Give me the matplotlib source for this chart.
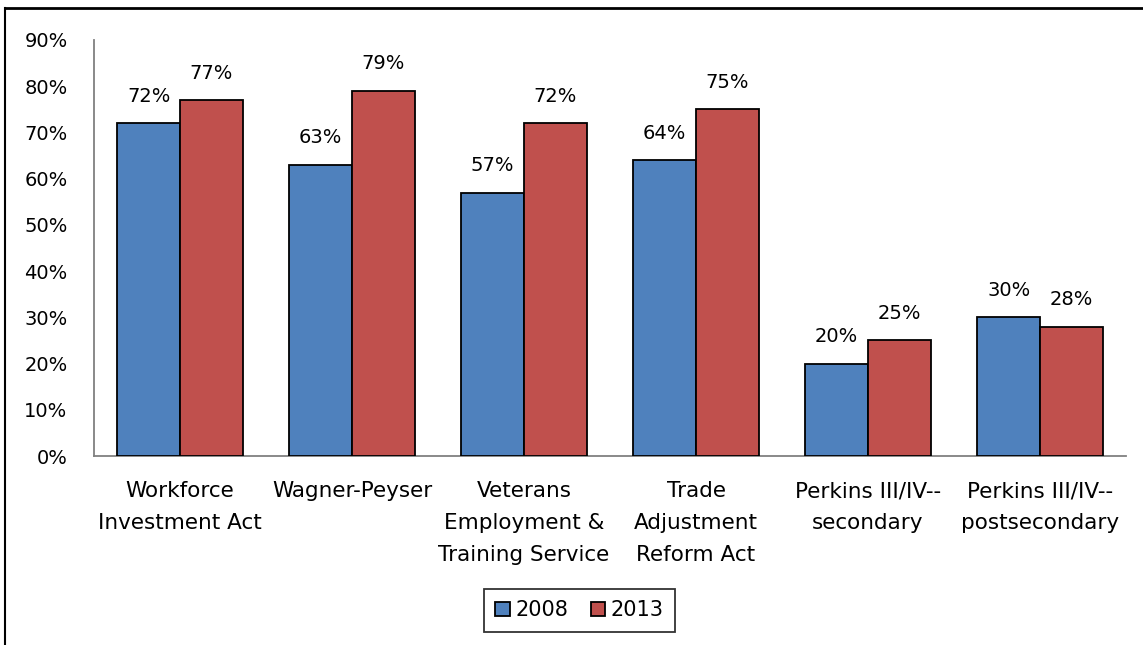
import numpy as np
import matplotlib.pyplot as plt
from matplotlib.lines import Line2D

categories = ['Workforce\nInvestment Act', 'Wagner-Peyser', 'Veterans\nEmployment &\nTraining Service',
              'Trade\nAdjustment\nReform Act', 'Perkins III/IV--\nsecondary', 'Perkins III/IV--\npostsecondary']
years = ['2008', '2013']
vals_2008 = [72, 63, 57, 64, 20, 30]
vals_2013 = [77, 79, 72, 75, 25, 28]
colors = ['#4F81BD', '#C0504D']

plt.rcParams['font.family'] = ['DejaVu Sans']

fig = plt.figure(figsize=(11.43, 6.45), dpi=100)
ax = fig.add_axes([0.0822, 0.293, 0.903, 0.645])

x = np.arange(len(categories))
w = 0.365
for i, (vals, c, lab) in enumerate(zip([vals_2008, vals_2013], colors, years)):
    pos = x + (i - 0.5) * w
    ax.bar(pos, vals, width=w, color=c, edgecolor='black', linewidth=1.3, label=lab, zorder=3)
    for p, v in zip(pos, vals):
        ax.annotate(f'{v}%', (p, v), xytext=(0, 12.5), textcoords='offset points',
                    ha='center', va='bottom', fontsize=14)

ax.set_xlim(-0.5, len(categories) - 0.5)
ax.set_ylim(0, 90)
ax.set_yticks(range(0, 91, 10))
ax.set_yticklabels([f'{t}%' for t in range(0, 91, 10)], fontsize=14)
ax.set_xticks(x)
ax.set_xticklabels(categories, fontsize=15.5, linespacing=1.75)
ax.tick_params(axis='y', length=0, pad=19)
ax.tick_params(axis='x', length=0, pad=18)
for s in ['top', 'right']:
    ax.spines[s].set_visible(False)
for s in ['left', 'bottom']:
    ax.spines[s].set_color('#808080')
    ax.spines[s].set_linewidth(1.3)

leg = fig.legend(loc='center', bbox_to_anchor=(0.507, 0.054), ncol=2, fontsize=15,
                 frameon=True, fancybox=False, edgecolor='black', handlelength=0.7,
                 handleheight=0.7, handletextpad=0.25, columnspacing=1.1, borderpad=0.55)
leg.get_frame().set_linewidth(1.3)

# outer frame (top and left edges only)
fig.add_artist(Line2D([0.0045, 1.0], [0.987, 0.987], color='black', lw=2, transform=fig.transFigure))
fig.add_artist(Line2D([0.0045, 0.0045], [0.0, 0.987], color='black', lw=1.5, transform=fig.transFigure))

fig.savefig('out.png', dpi=100)
